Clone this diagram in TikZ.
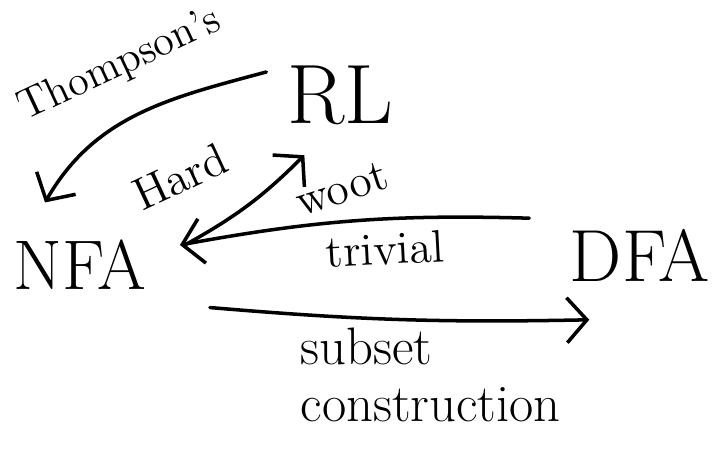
\documentclass[tikz,border=0pt]{standalone}
\usepackage{tikz}
\usetikzlibrary{positioning,arrows.meta}

\begin{document}
\begin{tikzpicture}[
        >={Straight Barb[length=2mm,width=4.5mm]},
        machine/.style={
            inner sep=0pt,
            font=\fontsize{20}{24}\selectfont
        },
        tag/.style={
            inner sep=0pt,
            font=\fontsize{13}{16}\selectfont
        },
        line/.style={->, line width=1pt, line cap=round}
    ]
    \useasboundingbox (0,0) rectangle (7.19,4.51);

    % MAIN NODES
    \node[machine, font=\fontsize{24}{28}\selectfont] (rl) at (3.40,3.56) {RL};
    \node[machine] (nfa) at (0.80,1.86) {NFA};
    \node[machine, font=\fontsize{21}{25}\selectfont] (dfa) at (6.40,1.96) {DFA};

    % LABELS
    \node[tag, font=\fontsize{12}{15}\selectfont, rotate=25] (thompson) at (1.20,3.86) {Thompson's};
    \node[tag, rotate=25] (hard) at (1.80,2.74) {Hard};
    \node[tag, rotate=18] (woot) at (3.42,2.62) {woot};
    \node[tag, rotate=3] (trivial) at (3.85,2.02) {trivial};
    \node[tag, font=\fontsize{15}{16}\selectfont, align=left, anchor=west] (subset) at (3.00,0.76) {subset\\construction};

    % ============================================================
    % CONNECTIONS
    % ============================================================
    \draw[line] ([shift={(-0.20,0.23)}]rl.west) to[out=195, in=60] ([shift={(-0.35,0.37)}]nfa.north);
    \draw[line] ([shift={(0.38,0.20)}]nfa.east) to[bend right=8] ([shift={(0.18,-0.30)}]rl.south west);
    \draw[line] ([shift={(-0.40,0.10)}]dfa.north west) to[bend right=6] ([shift={(0.33,0.20)}]nfa.east);
    \draw[line] ([shift={(0.63,-0.17)}]nfa.south east) to[bend right=3] ([shift={(0.20,-0.38)}]dfa.south west);

\end{tikzpicture}
\end{document}
